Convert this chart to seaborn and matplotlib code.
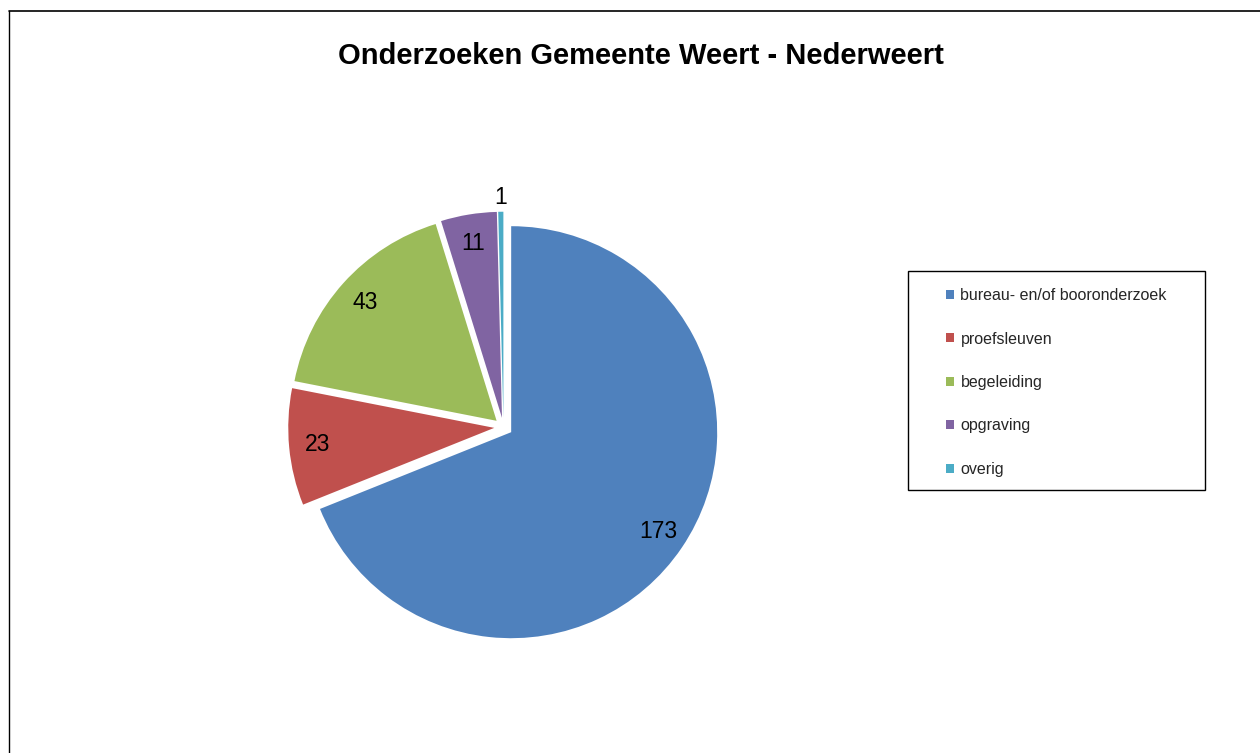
import numpy as np
import matplotlib
matplotlib.use("Agg")
import matplotlib.pyplot as plt
import seaborn as sns
from matplotlib.lines import Line2D
from matplotlib.patches import Rectangle

# -------------------------------
# data
# -------------------------------
categories = ["bureau- en/of booronderzoek", "proefsleuven", "begeleiding", "opgraving", "overig"]
counts = [173, 23, 43, 11, 1]
colors = ["#4F81BD", "#C0504D", "#9BBB59", "#8064A2", "#4BACC6"]
title = "Onderzoeken Gemeente Weert - Nederweert"

sns.set_theme(style="white")
plt.rcParams['font.family'] = ['Liberation Sans', 'DejaVu Sans']

W, H = 1260, 753
fig = plt.figure(figsize=(W / 100, H / 100), dpi=100)
fig.patch.set_facecolor("white")

# pie axes: centre ~ (503, 427) px, radius ~206 px
r_px = 206
lim = 1.3
side = 2 * lim * r_px
cx, cy = 503.5, 427
ax = fig.add_axes([(cx - side / 2) / W, (H - cy - side / 2) / H, side / W, side / H])

wedges, _ = ax.pie(counts, colors=sns.color_palette(colors), startangle=90, counterclock=False,
                   explode=[0.045] * len(counts),
                   wedgeprops=dict(linewidth=0))
ax.set_xlim(-lim, lim)
ax.set_ylim(-lim, lim)
ax.set_aspect("equal")
ax.axis("off")

# value labels
for i, (w, val) in enumerate(zip(wedges, counts)):
    ang = np.deg2rad((w.theta1 + w.theta2) / 2)
    dist = 1.07 if val < 5 else 0.86
    x = w.center[0] + dist * np.cos(ang)
    y = w.center[1] + dist * np.sin(ang)
    ax.text(x, y, str(val), ha="center", va="center", fontsize=16.5, color="black")

# title
fig.text(0.509, 1 - 56 / H, title, ha="center", va="center", fontsize=21, fontweight="bold", color="black")

# legend in a framed box
lx0, ly0, lx1, ly1 = 908, 271, 1205, 490
fig.add_artist(Rectangle((lx0 / W, 1 - ly1 / H), (lx1 - lx0) / W, (ly1 - ly0) / H,
                         transform=fig.transFigure, fill=False, edgecolor="black", linewidth=1.0))
leg = fig.legend(wedges, categories, loc="center",
                 bbox_to_anchor=((lx0 + lx1) / 2 / W, 1 - (ly0 + ly1 + 4) / 2 / H),
                 frameon=False, fontsize=11.5, handlelength=0.5, handleheight=0.5,
                 handletextpad=0.4, labelspacing=1.78, borderpad=0)
for t in leg.get_texts():
    t.set_color("#262626")

# outer frame (top and left edges)
fig.add_artist(Line2D([9 / W, 1.0], [1 - 11 / H, 1 - 11 / H], transform=fig.transFigure,
                      color="black", linewidth=1.2))
fig.add_artist(Line2D([9 / W, 9 / W], [1 - 11 / H, 0.0], transform=fig.transFigure,
                      color="black", linewidth=1.0))

fig.savefig("out.png", dpi=100)
